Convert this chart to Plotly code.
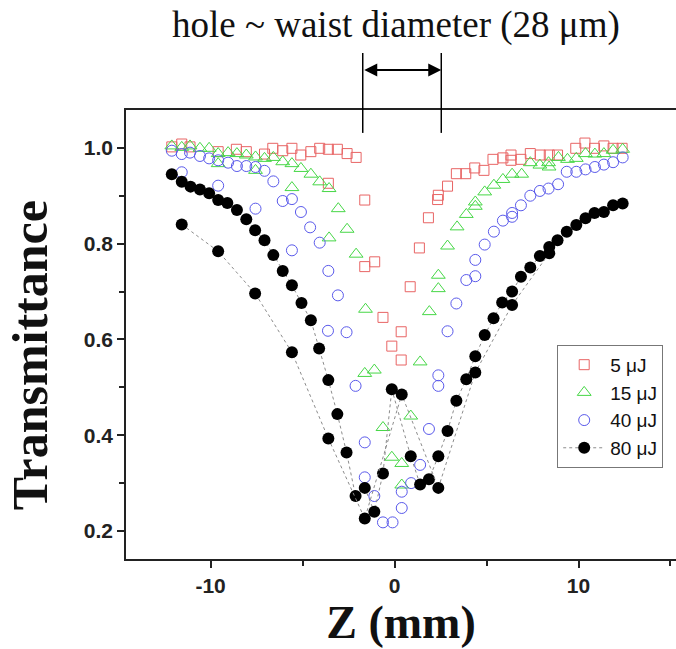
import plotly.graph_objects as go

# ---------------- data ----------------
z5 = [-12.11, -11.57, -11.12, -9.59, -8.6, -8.06, -7.07, -6.62, -6.08, -5.58, -5.1, -4.55, -4.07,
      -3.6, -3.11, -2.58, -2.09, -3.6, -1.62, -1.62, -1.08, -0.63, -0.15, 0.36, 0.36, 0.85, 1.35,
      1.84, 2.34, 2.38, 2.88, 3.36, 3.87, 4.36, 4.86, 5.35, 5.89, 6.33, 6.33, 6.87, 7.38, 7.92,
      8.41, 8.86, 9.85, 10.35, 10.87, 11.38, 11.88, 12.37]
t5 = [1.002, 1.008, 1.002, 0.992, 0.997, 0.992, 0.987, 0.999, 0.994, 0.999, 0.985, 0.992, 0.999,
      0.997, 0.997, 0.988, 0.980, 0.926, 0.891, 0.752, 0.762, 0.646, 0.586, 0.616, 0.557, 0.710, 0.791,
      0.854, 0.892, 0.901, 0.920, 0.946, 0.946, 0.958, 0.953, 0.976, 0.979, 0.985, 0.974, 0.976, 0.988, 0.985,
      0.985, 0.985, 0.999, 1.010, 0.999, 1.004, 0.999, 0.999]

z15 = [-12.11, -11.57, -11.12, -10.58, -10.08, -9.59, -9.59, -9.05, -8.57, -8.06, -7.56, -7.56, -7.07,
       -6.59, -6.08, -5.58, -5.58, -5.09, -4.55, -4.07, -3.56, -3.06, -2.58, -3.56, -2.09, -1.58,
       -1.62, -1.10, -0.63, -0.15, 0.39, 0.39, 0.88, 1.39, 1.89, 2.38, 2.38, 2.88, 3.40, 3.90, 4.39,
       4.39, 4.90, 5.40, 5.89, 6.39, 6.91, 7.38, 7.90, 8.37, 8.40, 8.91, 9.40, 9.88, 10.38, 10.89,
       11.38, 11.88, 12.40]
t15 = [1.004, 1.001, 1.004, 0.999, 0.999, 0.988, 0.967, 0.990, 0.988, 0.985, 0.981, 0.953, 0.978,
       0.980, 0.971, 0.967, 0.917, 0.957, 0.945, 0.929, 0.915, 0.873, 0.830, 0.812, 0.778, 0.663,
       0.529, 0.536, 0.416, 0.354, 0.341, 0.296, 0.440, 0.553, 0.658, 0.734, 0.706, 0.795, 0.835, 0.861, 0.887,
       0.878, 0.908, 0.922, 0.934, 0.945, 0.945, 0.969, 0.964, 0.969, 0.960, 0.980, 0.976, 0.978, 0.988, 0.987,
       0.988, 0.995, 0.997]

z40 = [-12.11, -11.57, -11.57, -11.12, -10.58, -10.08, -9.59, -9.59, -9.05, -8.57, -8.06, -7.56, -7.07,
       -7.56, -6.59, -6.08, -5.58, -5.09, -4.59, -4.07, -5.58, -3.60, -3.08, -3.62, -2.61, -2.12,
       -1.62, -1.62, -1.10, -0.63, -0.11, 0.39, 0.39, 0.90, 1.39, 1.87, 2.38, 2.38, 2.88, 3.36, 3.90,
       4.39, 4.39, 4.90, 5.40, 5.89, 6.39, 6.39, 6.87, 7.38, 7.90, 8.37, 8.89, 9.36, 9.88, 10.38,
       10.89, 11.38, 11.88, 12.40]
t40 = [0.994, 0.987, 0.949, 0.990, 0.983, 0.978, 0.974, 0.921, 0.969, 0.962, 0.962, 0.960, 0.952,
       0.873, 0.930, 0.889, 0.893, 0.866, 0.834, 0.802, 0.786, 0.743, 0.692, 0.618, 0.615, 0.503,
       0.385, 0.312, 0.273, 0.218, 0.218, 0.282, 0.248, 0.300, 0.338, 0.413, 0.525, 0.503, 0.617, 0.675, 0.724,
       0.732, 0.766, 0.798, 0.825, 0.848, 0.856, 0.864, 0.880, 0.900, 0.910, 0.915, 0.924, 0.950, 0.950, 0.955,
       0.960, 0.965, 0.970, 0.980]

z80a = [-12.11, -11.57, -11.09, -10.58, -10.08, -9.59, -9.09, -8.57, -8.06, -7.58, -7.07, -6.59, -6.08,
        -5.58, -5.06, -4.55, -4.10, -3.60, -3.11, -2.61, -2.12, -1.62, -1.10, -0.63, -0.15, 0.88,
        1.39, 1.87, 2.38, 2.88, 3.36, 3.90, 4.39, 4.90, 5.38, 5.85, 6.39, 6.87, 7.38, 7.90, 8.41,
        8.86, 9.36, 9.88, 10.38, 10.87, 11.38, 11.88, 12.40]
t80a = [0.945, 0.929, 0.919, 0.913, 0.905, 0.891, 0.885, 0.870, 0.851, 0.828, 0.807, 0.776, 0.743,
        0.713, 0.676, 0.640, 0.581, 0.515, 0.444, 0.364, 0.273, 0.290, 0.240, 0.320, 0.496, 0.356,
        0.297, 0.308, 0.356, 0.409, 0.472, 0.517, 0.565, 0.609, 0.644, 0.677, 0.700, 0.731, 0.750, 0.774, 0.793,
        0.807, 0.825, 0.839, 0.853, 0.864, 0.866, 0.880, 0.884]

z80b = [-11.57, -9.59, -7.58, -5.58, -3.60, -1.62, 0.39, 2.38, 4.39, 6.39, 8.41]
t80b = [0.840, 0.784, 0.696, 0.573, 0.393, 0.226, 0.485, 0.290, 0.531, 0.672, 0.780]

labels = ["5 \u03bcJ", "15 \u03bcJ", "40 \u03bcJ", "80 \u03bcJ"]
x_ticks = [-10, 0, 10]
x_ticktext = ["-10", "0", "10"]
y_ticks = [0.2, 0.4, 0.6, 0.8, 1.0]
y_ticktext = ["0.2", "0.4", "0.6", "0.8", "1.0"]
hole_edges = [-1.73, 2.54]

# ---------------- figure ----------------
fig = go.Figure()
open_line = dict(width=1)
fig.add_trace(go.Scatter(x=z5, y=t5, mode="markers", name=labels[0],
                         marker=dict(symbol="square-open", size=10, color="rgb(232,100,100)", line=open_line)))
fig.add_trace(go.Scatter(x=z15, y=t15, mode="markers", name=labels[1],
                         marker=dict(symbol="triangle-up-open", size=12, color="rgb(70,215,70)", line=open_line)))
fig.add_trace(go.Scatter(x=z40, y=t40, mode="markers", name=labels[2],
                         marker=dict(symbol="circle-open", size=11, color="rgb(90,90,235)", line=open_line)))
fig.add_trace(go.Scatter(x=z80a, y=t80a, mode="lines+markers", name=labels[3],
                         line=dict(color="rgb(140,140,140)", width=1, dash="dot"),
                         marker=dict(symbol="circle", size=12, color="black")))
fig.add_trace(go.Scatter(x=z80b, y=t80b, mode="lines+markers", name=labels[3], showlegend=False,
                         line=dict(color="rgb(140,140,140)", width=1, dash="dot"),
                         marker=dict(symbol="circle", size=12, color="black")))

tickfont = dict(family="Liberation Sans, Arial", size=21, color="#222")
fig.update_xaxes(range=[-14.6, 15.3], tickvals=x_ticks, ticktext=["<b>%s</b>" % t for t in x_ticktext],
                 ticks="outside", ticklen=7, tickwidth=1.5,
                 tickcolor="#222", showline=True, linecolor="#222", linewidth=1.5, mirror=True,
                 showgrid=False, zeroline=False, tickfont=tickfont,
                 minor=dict(tickvals=[-5, 5, 15], ticks="outside", ticklen=5, tickcolor="#222", tickwidth=1.5),
                 title=dict(text="<b>Z (mm)</b>", font=dict(family="Liberation Serif, Times New Roman", size=46, color="#111"),
                            standoff=0))
fig.update_yaxes(range=[0.1415, 1.079], tickvals=y_ticks, ticktext=["<b>%s</b>" % t for t in y_ticktext],
                 ticks="outside", ticklen=7,
                 tickwidth=1.5, tickcolor="#222", showline=True, linecolor="#222", linewidth=1.5,
                 showgrid=False, zeroline=False, tickfont=tickfont,
                 minor=dict(tickvals=[0.3, 0.5, 0.7, 0.9], ticks="outside", ticklen=5, tickcolor="#222", tickwidth=1.5))

# y axis title placed to match the original position
fig.add_annotation(x=-0.1745, y=0.454, xref="paper", yref="paper", showarrow=False, textangle=-90,
                   xanchor="center", yanchor="middle",
                   text="<b>Transmittance</b>",
                   font=dict(family="Liberation Serif, Times New Roman", size=50, color="#111"))

# hole annotation
for xe in hole_edges:
    fig.add_shape(type="line", xref="x", yref="paper", x0=xe, x1=xe, y0=0.949, y1=1.127,
                  line=dict(color="black", width=1.5))
fig.add_annotation(x=hole_edges[1], y=1.089, xref="x", yref="paper", ax=hole_edges[0], ay=0,
                   axref="x", ayref="pixel", text="", showarrow=True, arrowhead=2, arrowside="end+start",
                   arrowsize=1.3, arrowwidth=2, arrowcolor="black")
fig.add_annotation(x=0.1, y=1.19, xref="x", yref="paper", showarrow=False, xanchor="center", yanchor="middle",
                   text="hole ~ waist diameter (28 \u03bcm)",
                   font=dict(family="Liberation Serif, Times New Roman", size=37, color="#111"))

fig.update_layout(
    width=676, height=649,
    margin=dict(l=126, r=0, t=110, b=90, autoexpand=False),
    plot_bgcolor="white", paper_bgcolor="white",
    legend=dict(x=0.784, y=0.477, xanchor="left", yanchor="top", bgcolor="white",
                bordercolor="#777", borderwidth=1,
                font=dict(family="Liberation Sans, Arial", size=19, color="#111"),
                tracegroupgap=0, itemwidth=42),
    showlegend=True,
)

fig.write_html("out.html")
